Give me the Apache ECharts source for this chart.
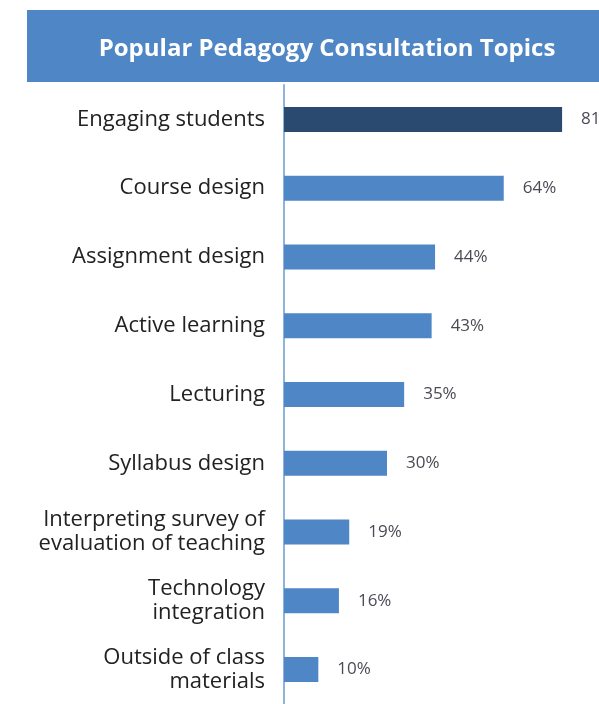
<!DOCTYPE html>
<html>
<head>
<meta charset="utf-8">
<script src="https://cdn.jsdelivr.net/npm/echarts@6/dist/echarts.min.js"></script>
<style>
html,body{margin:0;padding:0;background:#fff;}
#chart{width:599px;height:704px;}
</style>
</head>
<body>
<div id="chart"></div>
<script>
var titleText = 'Popular Pedagogy Consultation Topics';
var categories = [
  'Engaging students',
  'Course design',
  'Assignment design',
  'Active learning',
  'Lecturing',
  'Syllabus design',
  'Interpreting survey of\nevaluation of teaching',
  'Technology\nintegration',
  'Outside of class\nmaterials'
];
var values = [81, 64, 44, 43, 35, 30, 19, 16, 10];
var highlightIndex = 0;

var chart = echarts.init(document.getElementById('chart'));
chart.setOption({
  backgroundColor: '#ffffff',
  animation: false,
  graphic: [{
    type: 'rect',
    left: 27, top: 10,
    shape: {width: 600, height: 72},
    style: {fill: '#4f86c6'},
    z: 0
  }],
  title: {
    text: titleText,
    left: 322, top: 32,
    textAlign: 'center',
    textStyle: {color: '#ffffff', fontSize: 24, fontWeight: 'bold', fontFamily: 'Open Sans'},
    z: 10
  },
  grid: {left: 284, right: 6, top: 85, bottom: -10, containLabel: false},
  xAxis: {
    type: 'value', min: 0, max: 90, show: false
  },
  yAxis: {
    type: 'category',
    data: categories,
    inverse: true,
    axisLine: {show: true, lineStyle: {color: '#8fb4dc', width: 2}},
    axisTick: {show: false},
    axisLabel: {
      margin: 19, color: '#222', fontSize: 22, fontFamily: 'Open Sans', lineHeight: 24, align: 'right'
    }
  },
  series: [{
    type: 'bar',
    data: values.map(function (v, i) {
      return {value: v, itemStyle: {color: i === highlightIndex ? '#2b4a6f' : '#4f86c6'}};
    }),
    barWidth: 25,
    label: {
      show: true, position: 'right', distance: 19,
      formatter: '{c}%', color: '#4a4a55', fontSize: 17, fontFamily: 'Open Sans'
    }
  }]
});
</script>
</body>
</html>
